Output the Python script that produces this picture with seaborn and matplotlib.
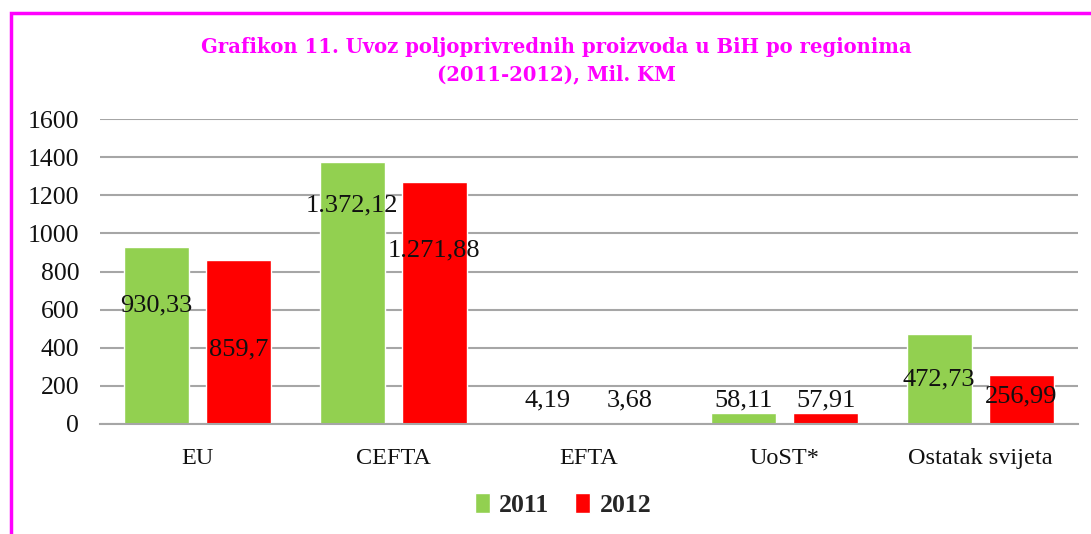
import matplotlib
matplotlib.use("Agg")
import matplotlib.pyplot as plt
from matplotlib.patches import Rectangle, Patch
import seaborn as sns
import pandas as pd

regions = ["EU", "CEFTA", "EFTA", "UoST*", "Ostatak svijeta"]
years = ["2011", "2012"]
values_2011 = [930.33, 1372.12, 4.19, 58.11, 472.73]
values_2012 = [859.70, 1271.88, 3.68, 57.91, 256.99]
labels_2011 = ["930,33", "1.372,12", "4,19", "58,11", "472,73"]
labels_2012 = ["859,7", "1.271,88", "3,68", "57,91", "256,99"]
# label anchor heights as placed in the original chart
label_y_2011 = [620, 1145, 126, 126, 232]
label_y_2012 = [390, 910, 126, 126, 142]

colors = {"2011": "#92D050", "2012": "#FF0000"}
magenta = "#FF00FF"
grid_col = "#A6A6A6"

df = pd.DataFrame({
    "region": regions * 2,
    "year": [years[0]] * len(regions) + [years[1]] * len(regions),
    "value": values_2011 + values_2012,
})

sns.set_theme(style="white")
plt.rcParams["font.family"] = ["Liberation Serif", "DejaVu Serif"]

fig = plt.figure(figsize=(10.91, 5.34), dpi=100)
ax = fig.add_axes([100 / 1091, 1 - 424 / 534, 978 / 1091, 305 / 534])

sns.barplot(data=df, x="region", y="value", hue="year", palette=colors,
            width=0.84, gap=0.21, saturation=1, ax=ax, legend=False,
            order=regions, hue_order=years)

ax.set_ylim(0, 1600)
ax.set_xlim(-0.5, len(regions) - 0.5)
ax.set_yticks(range(0, 1601, 200))
ax.grid(axis="y", color=grid_col, linewidth=1.5)
ax.set_axisbelow(True)
for s in ["top", "right", "left"]:
    ax.spines[s].set_visible(False)
ax.spines["bottom"].set_color(grid_col)
ax.spines["bottom"].set_linewidth(1.5)
ax.tick_params(axis="y", length=0, pad=15, labelsize=18.5, labelcolor="#111111")
ax.tick_params(axis="x", length=0, pad=17, labelsize=17.5, labelcolor="#111111")
ax.set_xlabel("")
ax.set_ylabel("")

# data labels, centred on each bar
for i, region in enumerate(regions):
    for j, (labs, ys) in enumerate([(labels_2011, label_y_2011),
                                     (labels_2012, label_y_2012)]):
        bar = ax.containers[j][i]
        xc = bar.get_x() + bar.get_width() / 2
        ax.text(xc, ys[i], labs[i], ha="center", va="center",
                fontsize=19, color="#111111")

fig.text(0.51, 0.912, "Grafikon 11. Uvoz poljoprivrednih proizvoda u BiH po regionima",
         ha="center", va="center", fontsize=14.1, fontweight="bold",
         color=magenta, family=["DejaVu Serif"])
fig.text(0.51, 0.86, "(2011-2012), Mil. KM",
         ha="center", va="center", fontsize=14.1, fontweight="bold",
         color=magenta, family=["DejaVu Serif"])

handles = [Patch(facecolor=colors[y], label=y) for y in years]
fig.legend(handles=handles, loc="center", bbox_to_anchor=(0.516, 0.054),
           ncol=2, frameon=False, handlelength=0.6, handleheight=0.8,
           handletextpad=0.35, columnspacing=1.0,
           prop={"size": 18.5, "weight": "bold"})

# magenta frame (clipped on the right and bottom)
fig.patches.append(Rectangle((11 / 1091, -0.1), 1.2, 1 - 13 / 534 + 0.1,
                             transform=fig.transFigure, fill=False,
                             edgecolor=magenta, linewidth=2.5))

fig.savefig("out.png", dpi=100)
